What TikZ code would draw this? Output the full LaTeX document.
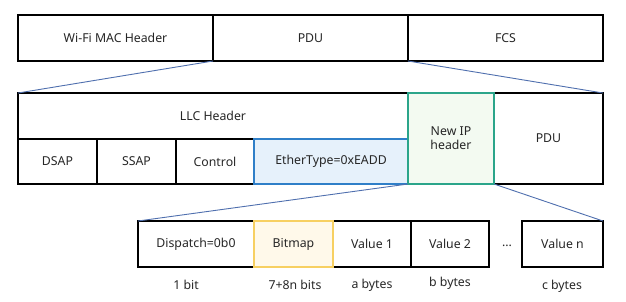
\documentclass[tikz,border=0pt]{standalone}
\usepackage{fontspec}
\setmainfont{Noto Sans}
\definecolor{ethblue}{HTML}{2F7FC8}
\definecolor{ethfill}{HTML}{E6F1FB}
\definecolor{ipgreen}{HTML}{2BA58A}
\definecolor{ipfill}{HTML}{F3FAF1}
\definecolor{bmyellow}{HTML}{F7D062}
\definecolor{bmfill}{HTML}{FFF9EA}
\definecolor{zoomline}{HTML}{4F6FAE}
\begin{document}
\begin{tikzpicture}[
   x=1pt,y=-1pt,
   pktfield/.style={draw,line width=2pt,inner sep=0pt,outer sep=0pt,
     minimum height=46pt,align=center,font=\fontsize{12.3}{14}\selectfont,
     text=black!85},
   ethfield/.style={pktfield,draw=ethblue,fill=ethfill},
   ipfield/.style={pktfield,draw=ipgreen,fill=ipfill},
   bmfield/.style={pktfield,draw=bmyellow,fill=bmfill},
   sizelbl/.style={font=\fontsize{12.3}{14}\selectfont,text=black!85,inner sep=1pt},
   zoomedge/.style={draw=zoomline,line width=0.9pt}
 ]
 \useasboundingbox (0,0) rectangle (626,301);
 % Wi-Fi frame
 \node[pktfield,minimum width=195pt] (mac) at (115.5,38) {Wi-Fi MAC Header};
 \node[pktfield,minimum width=195pt] (pdu) at (310.5,38) {PDU};
 \node[pktfield,minimum width=195pt] (fcs) at (505.5,38) {FCS};
 % LLC / SNAP part
 \node[pktfield,minimum width=390pt] (llc) at (213,116) {LLC Header};
 \node[pktfield,minimum width=79pt,minimum height=45pt] (dsap) at (57.5,161.5) {DSAP};
 \node[pktfield,minimum width=79pt,minimum height=45pt] (ssap) at (136.5,161.5) {SSAP};
 \node[pktfield,minimum width=78pt,minimum height=45pt] (ctrl) at (215,161.5) {Control};
 \node[pktfield,minimum width=109pt,minimum height=91pt] (inpdu) at (548.5,138.5) {PDU};
 \node[ethfield,minimum width=154pt,minimum height=45pt] (eth) at (331,161.5) {EtherType=0xEADD};
 \node[ipfield,minimum width=86pt,minimum height=91pt] (newip) at (451,138.5) {New IP\\header};
 % New IP header fields
 \node[pktfield,minimum width=116pt] (disp) at (196,244) {Dispatch=0b0};
 \node[pktfield,minimum width=78pt] (val1) at (372,244) {Value 1};
 \node[pktfield,minimum width=78pt] (val2) at (450,244) {Value 2};
 \node[pktfield,minimum width=81pt] (valn) at (562.5,244) {Value n};
 \node[bmfield,minimum width=79pt] (bmap) at (293.5,244) {Bitmap};
 \node[sizelbl] (dots) at (507,246) {...};
 % field sizes
 \foreach \name/\px/\py/\txt in {sz0/186/285/1 bit,sz1/295/285/7+8n bits,
   sz2/372/285/a bytes,sz3/450/283/b bytes,sz4/562/286/c bytes} {
   \node[sizelbl] (\name) at (\px,\py) {\txt};
 }
 % zoom lines
 \draw[zoomedge] (pdu.south west) -- (llc.north west);
 \draw[zoomedge] (fcs.south west) -- (inpdu.north east);
 \draw[zoomedge] (eth.south east) -- (disp.north west);
 \draw[zoomedge] (newip.south east) -- (valn.north east);
\end{tikzpicture}
\end{document}
